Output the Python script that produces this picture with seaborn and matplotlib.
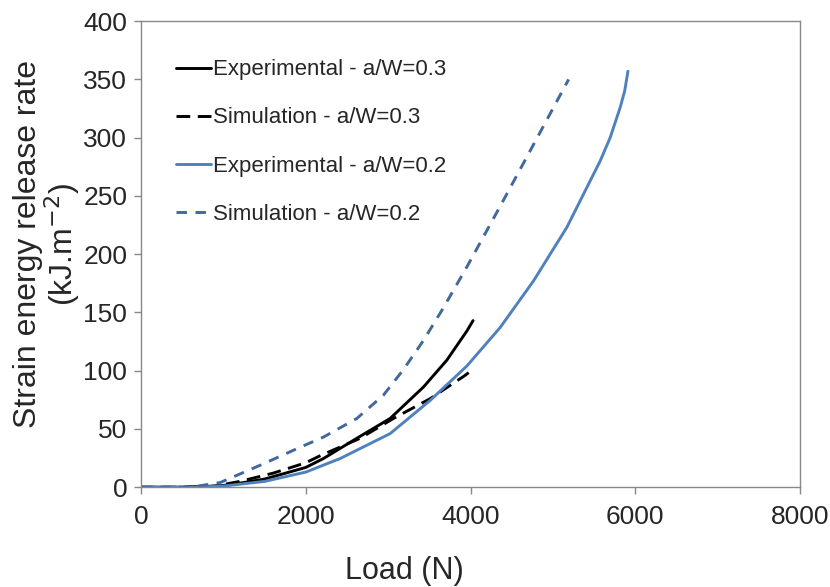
import pandas as pd
import matplotlib
matplotlib.use("Agg")
import matplotlib.pyplot as plt
import seaborn as sns

# values
exp03_load = [0, 500, 800, 1000, 1200, 1500, 2000, 2213, 2619, 3023, 3428, 3711, 3954, 4030]
exp03_g = [0, 0, 0.5, 1.5, 3.5, 7, 17, 24.6, 42, 59, 86, 109, 134, 143]

sim03_load = [0, 500, 900, 1200, 1600, 2000, 2173, 2659, 3063, 3509, 3913, 3990]
sim03_g = [0, 0, 1, 5, 12, 21, 27, 42, 59, 76, 95, 99]

exp02_load = [0, 600, 1000, 1500, 2000, 2416, 3023, 3509, 3954, 4358, 4763, 5168, 5573, 5694, 5816, 5870, 5910]
exp02_g = [0, 0, 1, 5, 13, 24.6, 46, 74.5, 104, 137, 177, 223, 280, 300, 326, 340, 357]

sim02_load = [0, 600, 960, 1450, 1890, 2213, 2619, 2942, 3185, 3428, 3670, 3954, 4358, 4763, 5190]
sim02_g = [0, 0, 4, 19, 33, 43, 59, 79, 101, 126, 154, 189, 241, 294, 350]

series = [
    ("Experimental - a/W=0.3", exp03_load, exp03_g, "black", "-"),
    ("Simulation - a/W=0.3", sim03_load, sim03_g, "black", (0, (4.7, 2.6))),
    ("Experimental - a/W=0.2", exp02_load, exp02_g, "#4F81BD", "-"),
    ("Simulation - a/W=0.2", sim02_load, sim02_g, "#41699C", (0, (3.6, 2.9))),
]

sns.set_style("white")
plt.rcParams['font.family'] = ['Liberation Sans', 'DejaVu Sans']

fig = plt.figure(figsize=(8.3, 5.87), dpi=100)
ax = fig.add_axes([0.170, 0.170, 0.794, 0.794])

for name, xs, ys, col, ls in series:
    df = pd.DataFrame({"Load": xs, "G": ys})
    sns.lineplot(data=df, x="Load", y="G", ax=ax, color=col, linestyle=ls,
                 linewidth=2.1, label=name, estimator=None, sort=False)

ax.set_xlim(0, 8000)
ax.set_ylim(0, 400)
ax.set_xticks(range(0, 8001, 2000))
ax.set_yticks(range(0, 401, 50))
ax.tick_params(axis="both", labelsize=19, length=5, width=1, color="#888888",
               direction="out", bottom=True, left=True)
ax.tick_params(axis="x", pad=8)
ax.tick_params(axis="y", pad=5)
for s in ax.spines.values():
    s.set_color("#888888")
    s.set_linewidth(1)

# Excel-style label placement (x label sits left of centre)
ax.set_xlabel("Load (N)", fontsize=22)
ax.xaxis.set_label_coords(0.40, -0.147)
ax.set_ylabel("Strain energy release rate\n(kJ.m$^{-2}$)", fontsize=23,
              linespacing=1.0)
ax.yaxis.set_label_coords(-0.089, 0.522)

leg = ax.legend(loc="upper left", frameon=False, fontsize=16, handlelength=1.55,
                handletextpad=0.12, labelspacing=1.22, borderaxespad=0.0,
                bbox_to_anchor=(0.04, 0.937))

fig.savefig("out.png", dpi=100)
